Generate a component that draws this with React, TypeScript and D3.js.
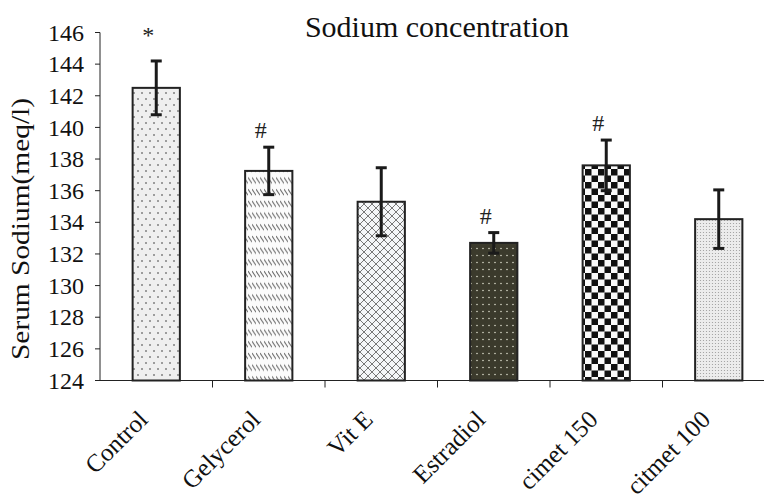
import * as d3 from 'd3';

// Chart data
const categories = ['Control', 'Gelycerol', 'Vit E', 'Estradiol', 'cimet 150', 'citmet 100'];
const means = [142.5, 137.25, 135.3, 132.7, 137.6, 134.2];
const errors = [1.7, 1.5, 2.15, 0.65, 1.6, 1.85];
const marks = ['*', '#', '', '#', '#', ''];
const yTicks = [124, 126, 128, 130, 132, 134, 136, 138, 140, 142, 144, 146];
const patternIds = ['pDots', 'pHatch', 'pDiamond', 'pDark', 'pCheck', 'pFine'];

const serif = { fontFamily: "'Liberation Serif', 'Times New Roman', serif" };

const App = () => {
  const width = 764, height = 500;
  const marginLeft = 100, axisY = 380.5, topY = 32.5;

  const x = d3.scaleBand<string>()
    .domain(categories)
    .range([marginLeft, marginLeft + 112.5 * categories.length]);

  const y = d3.scaleLinear()
    .domain([124, 146])
    .range([axisY, topY]);

  const barW = x.bandwidth() * 0.42;

  return (
    <svg width={width} height={height} style={{ position: 'absolute', left: 0, top: 0, background: '#fff' }}>
      <defs>
        <pattern id="pDots" width="8" height="12" patternUnits="userSpaceOnUse">
          <rect width="8" height="12" fill="#efefef" />
          <circle cx="2" cy="3" r="0.8" fill="#333" />
          <circle cx="6" cy="9" r="0.8" fill="#333" />
        </pattern>
        <pattern id="pHatch" width="4" height="11.7" patternUnits="userSpaceOnUse">
          <rect width="4" height="11.7" fill="#fbfbfb" />
          <line x1="0" y1="2" x2="4" y2="8" stroke="#666" strokeWidth="1" />
        </pattern>
        <pattern id="pDiamond" width="8" height="8" patternUnits="userSpaceOnUse">
          <rect width="8" height="8" fill="#f4f6f8" />
          <path d="M0,0 L8,8 M8,0 L0,8" stroke="#777" strokeWidth="1" />
        </pattern>
        <pattern id="pDark" width="6" height="7" patternUnits="userSpaceOnUse">
          <rect width="6" height="7" fill="#3b3a2c" />
          <circle cx="3" cy="3.5" r="0.8" fill="#d8d8c8" />
        </pattern>
        <pattern id="pCheck" width="13" height="13" patternUnits="userSpaceOnUse">
          <rect width="13" height="13" fill="#fafafa" />
          <rect x="0" y="0" width="6.5" height="6.5" fill="#111" />
          <rect x="6.5" y="6.5" width="6.5" height="6.5" fill="#111" />
        </pattern>
        <pattern id="pFine" width="3" height="3" patternUnits="userSpaceOnUse">
          <rect width="3" height="3" fill="#ececec" />
          <circle cx="1.5" cy="1.5" r="0.6" fill="#9a9a9a" />
        </pattern>
      </defs>

      {/* Title */}
      <text x={437} y={37} textAnchor="middle" fontSize={30} fill="#111" style={serif}>Sodium concentration</text>

      {/* Y axis label */}
      <text transform={`translate(29, ${(98 + 360) / 2}) rotate(-90)`} textAnchor="middle" style={serif}
        fontSize={25} fill="#111" textLength={262} lengthAdjust="spacingAndGlyphs">Serum Sodium(meq/l)</text>

      {/* Bars */}
      {categories.map((c, i) => {
        const cx = x(c)! + x.bandwidth() / 2;
        return (
          <rect key={c} x={cx - barW / 2} y={y(means[i])} width={barW} height={y(124) - y(means[i])}
            fill={`url(#${patternIds[i]})`} stroke="#222" strokeWidth={2} />
        );
      })}

      {/* Error bars */}
      {categories.map((c, i) => {
        const cx = x(c)! + x.bandwidth() / 2;
        const hi = y(means[i] + errors[i]), lo = y(means[i] - errors[i]);
        return (
          <g key={c} stroke="#1a1a1a" strokeWidth={3}>
            <line x1={cx} x2={cx} y1={hi} y2={lo} />
            <line x1={cx - 5.5} x2={cx + 5.5} y1={hi} y2={hi} />
            <line x1={cx - 5.5} x2={cx + 5.5} y1={lo} y2={lo} />
          </g>
        );
      })}

      {/* Significance marks */}
      {categories.map((c, i) => {
        const cx = x(c)! + x.bandwidth() / 2;
        return marks[i] ? (
          <text key={c} x={cx - 8} y={y(means[i] + errors[i]) - (marks[i] === '*' ? 18 : 9)}
            textAnchor="middle" fontSize={24} fill="#222" style={serif}>{marks[i]}</text>
        ) : null;
      })}

      {/* Y axis */}
      <line x1={marginLeft} x2={marginLeft} y1={topY} y2={axisY} stroke="#222" strokeWidth={1} />
      {yTicks.map(t => (
        <g key={t}>
          <line x1={marginLeft - 5} x2={marginLeft} y1={y(t)} y2={y(t)} stroke="#222" />
          <text x={84} y={y(t)} dy="0.34em" textAnchor="end" fontSize={24} fill="#111" style={serif}>{t}</text>
        </g>
      ))}

      {/* X axis */}
      <line x1={marginLeft} x2={width} y1={axisY} y2={axisY} stroke="#222" strokeWidth={1.2} />
      {categories.slice(1).map(c => (
        <line key={c} x1={x(c)!} x2={x(c)!} y1={axisY} y2={axisY + 7} stroke="#222" />
      ))}
      {categories.map(c => {
        const cx = x(c)! + x.bandwidth() / 2;
        return (
          <text key={c} transform={`translate(${cx - 7}, 421) rotate(-45)`} textAnchor="end"
            fontSize={25} fill="#111" style={serif}>{c}</text>
        );
      })}
    </svg>
  );
};

export default App;
